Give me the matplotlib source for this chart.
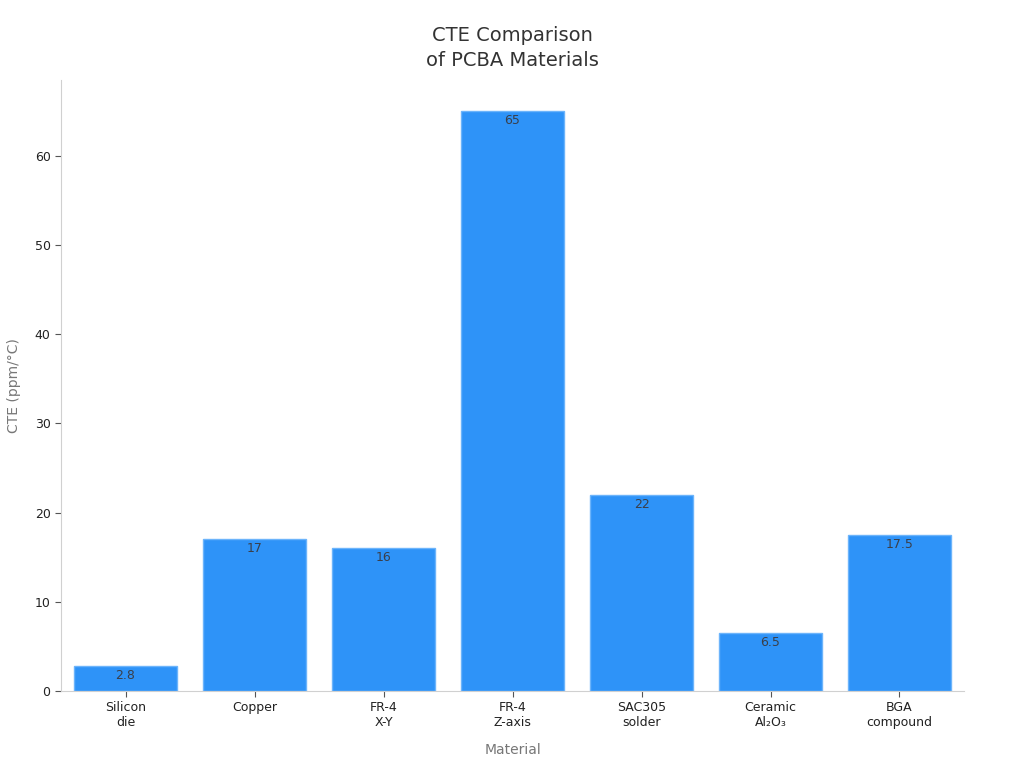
import matplotlib
matplotlib.use("Agg")
import matplotlib.pyplot as plt

categories = ["Silicon\ndie", "Copper", "FR-4\nX-Y", "FR-4\nZ-axis", "SAC305\nsolder", "Ceramic\nAl₂O₃", "BGA\ncompound"]
values = [2.8, 17, 16, 65, 22, 6.5, 17.5]
value_labels = ["2.8", "17", "16", "65", "22", "6.5", "17.5"]

plt.rcParams['font.family'] = ['DejaVu Sans']
fig = plt.figure(figsize=(10.24, 7.68), dpi=100)
ax = fig.add_axes([0.0596, 0.1003, 0.8818, 0.7955])

x = list(range(len(categories)))
bars = ax.bar(x, values, width=0.8, color="#2e93f8", edgecolor="#6cb4fb", linewidth=1)
for xi, v, lab in zip(x, values, value_labels):
    ax.text(xi, v - 0.35, lab, ha="center", va="top", fontsize=9, color="#3a3f4a")

ax.set_xlim(-0.5, 6.5)
ax.set_ylim(0, 68.5)
ax.set_xticks(x)
ax.set_xticklabels(categories, fontsize=9, color="#222222")
ax.set_yticks([0, 10, 20, 30, 40, 50, 60])
ax.tick_params(axis='y', labelsize=9, labelcolor="#222222", color="#555555", length=4)
ax.tick_params(axis='x', color="#555555", length=4)
for s in ["top", "right"]:
    ax.spines[s].set_visible(False)
for s in ["left", "bottom"]:
    ax.spines[s].set_color("#d0d0d0")
ax.set_xlabel("Material", fontsize=10, color="#777777", labelpad=10)
ax.set_ylabel("CTE (ppm/°C)", fontsize=10, color="#777777", labelpad=10)
ax.set_title("CTE Comparison\nof PCBA Materials", fontsize=14, color="#333333", pad=10, linespacing=1.4)

fig.savefig("out.png", dpi=100)
